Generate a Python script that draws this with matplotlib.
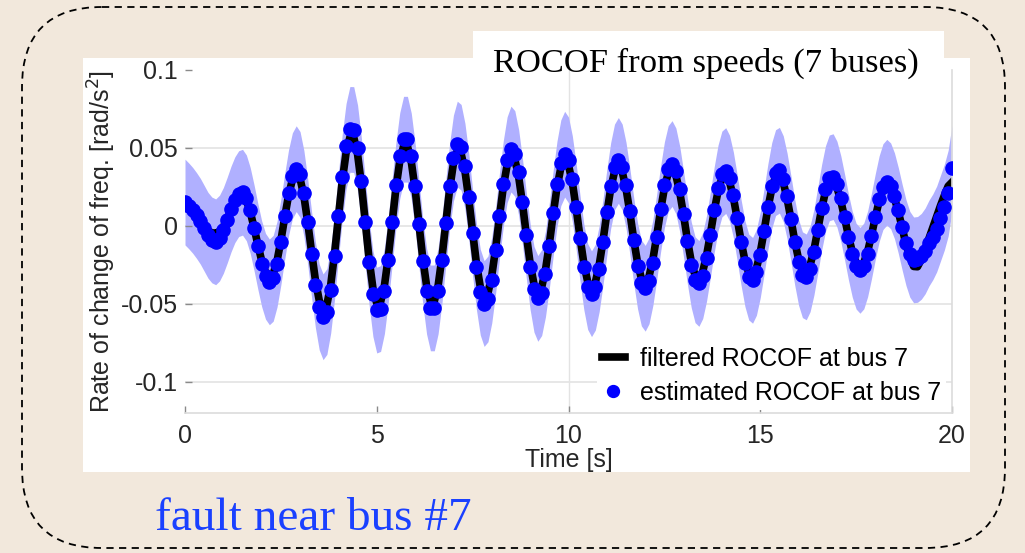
import numpy as np
import matplotlib
matplotlib.use("Agg")
import matplotlib.pyplot as plt
from matplotlib.patches import FancyBboxPatch, Rectangle

# ---- data (0.1 s sampling, 0..20 s) ----
time_s = np.linspace(0.0, 20.0, 201)

rocof_est = [
    0.0153, 0.0128, 0.0100, 0.0067, 0.0030, -0.0015, -0.0060, -0.0090, -0.0102, -0.0078,
    -0.0029, 0.0037, 0.0108, 0.0168, 0.0207, 0.0216, 0.0180, 0.0100, -0.0011, -0.0132,
    -0.0243, -0.0323, -0.0359, -0.0336, -0.0245, -0.0103, 0.0061, 0.0213, 0.0322, 0.0367,
    0.0330, 0.0209, 0.0026, -0.0182, -0.0377, -0.0520, -0.0583, -0.0549, -0.0411, -0.0194,
    0.0063, 0.0313, 0.0510, 0.0619, 0.0618, 0.0500, 0.0289, 0.0028, -0.0231, -0.0434,
    -0.0540, -0.0530, -0.0416, -0.0219, 0.0022, 0.0261, 0.0451, 0.0556, 0.0556, 0.0449,
    0.0256, 0.0015, -0.0226, -0.0419, -0.0526, -0.0526, -0.0417, -0.0221, 0.0020, 0.0255,
    0.0436, 0.0525, 0.0504, 0.0383, 0.0188, -0.0044, -0.0263, -0.0425, -0.0498, -0.0468,
    -0.0346, -0.0156, 0.0064, 0.0272, 0.0425, 0.0493, 0.0464, 0.0343, 0.0155, -0.0061,
    -0.0262, -0.0406, -0.0465, -0.0428, -0.0307, -0.0126, 0.0080, 0.0269, 0.0405, 0.0460,
    0.0423, 0.0303, 0.0123, -0.0079, -0.0262, -0.0389, -0.0435, -0.0393, -0.0274, -0.0103,
    0.0088, 0.0259, 0.0378, 0.0420, 0.0378, 0.0261, 0.0093, -0.0092, -0.0256, -0.0366,
    -0.0400, -0.0352, -0.0235, -0.0071, 0.0106, 0.0263, 0.0368, 0.0400, 0.0353, 0.0237,
    0.0076, -0.0097, -0.0248, -0.0345, -0.0369, -0.0319, -0.0207, -0.0056, 0.0105, 0.0244,
    0.0333, 0.0355, 0.0306, 0.0198, 0.0050, -0.0106, -0.0241, -0.0328, -0.0349, -0.0298,
    -0.0186, -0.0035, 0.0124, 0.0259, 0.0342, 0.0357, 0.0303, 0.0192, 0.0046, -0.0106,
    -0.0234, -0.0313, -0.0327, -0.0275, -0.0168, -0.0027, 0.0118, 0.0238, 0.0308, 0.0316,
    0.0268, 0.0176, 0.0056, -0.0071, -0.0182, -0.0258, -0.0285, -0.0257, -0.0179, -0.0065,
    0.0060, 0.0174, 0.0252, 0.0280, 0.0257, 0.0193, 0.0099, -0.0008, -0.0107, -0.0182,
    -0.0218, -0.0215, -0.0195, -0.0160, -0.0110, -0.0070, -0.0020, 0.0050, 0.0120, 0.0210,
    0.0370,
]

rocof_filt = [
    0.0150, 0.0128, 0.0100, 0.0066, 0.0030, -0.0005, -0.0030, -0.0045, -0.0048, -0.0035,
    -0.0005, 0.0040, 0.0105, 0.0155, 0.0190, 0.0199, 0.0166, 0.0092, -0.0010, -0.0121,
    -0.0224, -0.0297, -0.0330, -0.0309, -0.0225, -0.0095, 0.0056, 0.0196, 0.0296, 0.0338,
    0.0304, 0.0192, 0.0024, -0.0167, -0.0347, -0.0478, -0.0536, -0.0505, -0.0378, -0.0178,
    0.0058, 0.0288, 0.0469, 0.0569, 0.0569, 0.0460, 0.0266, 0.0026, -0.0213, -0.0399,
    -0.0497, -0.0488, -0.0383, -0.0201, 0.0020, 0.0240, 0.0415, 0.0512, 0.0512, 0.0413,
    0.0236, 0.0014, -0.0208, -0.0385, -0.0484, -0.0484, -0.0384, -0.0203, 0.0018, 0.0235,
    0.0401, 0.0483, 0.0464, 0.0352, 0.0173, -0.0040, -0.0242, -0.0391, -0.0458, -0.0431,
    -0.0318, -0.0144, 0.0059, 0.0250, 0.0391, 0.0454, 0.0427, 0.0316, 0.0143, -0.0056,
    -0.0241, -0.0374, -0.0428, -0.0394, -0.0282, -0.0116, 0.0074, 0.0247, 0.0373, 0.0423,
    0.0389, 0.0279, 0.0113, -0.0073, -0.0241, -0.0358, -0.0400, -0.0362, -0.0252, -0.0095,
    0.0081, 0.0238, 0.0348, 0.0386, 0.0348, 0.0240, 0.0086, -0.0085, -0.0236, -0.0337,
    -0.0368, -0.0324, -0.0216, -0.0065, 0.0098, 0.0242, 0.0339, 0.0368, 0.0325, 0.0218,
    0.0070, -0.0089, -0.0228, -0.0317, -0.0339, -0.0293, -0.0190, -0.0052, 0.0097, 0.0224,
    0.0306, 0.0327, 0.0282, 0.0182, 0.0046, -0.0098, -0.0222, -0.0302, -0.0321, -0.0274,
    -0.0171, -0.0032, 0.0114, 0.0238, 0.0315, 0.0328, 0.0279, 0.0177, 0.0042, -0.0098,
    -0.0215, -0.0288, -0.0301, -0.0253, -0.0155, -0.0025, 0.0109, 0.0219, 0.0283, 0.0291,
    0.0247, 0.0162, 0.0052, -0.0065, -0.0167, -0.0237, -0.0262, -0.0236, -0.0165, -0.0060,
    0.0055, 0.0160, 0.0232, 0.0258, 0.0236, 0.0178, 0.0091, -0.0010, -0.0120, -0.0195,
    -0.0260, -0.0262, -0.0215, -0.0150, -0.0080, -0.0010, 0.0060, 0.0130, 0.0195, 0.0255,
    0.0280,
]

band_halfwidth = 0.0275  # half width of the shaded confidence band

xticks = [0, 5, 10, 15, 20]
yticks = [-0.1, -0.05, 0, 0.05, 0.1]
ytick_labels = ["-0.1", "-0.05", "0", "0.05", "0.1"]

W, H = 1025, 553
BEIGE = "#f2e8dc"
BAND = "#b0b0ff"
TXT = "#262626"
GRID = "#e3e3e3"

fig = plt.figure(figsize=(W / 100, H / 100), dpi=100, facecolor=BEIGE)

# background layer in pixel coordinates: dashed rounded frame, white panels
bg = fig.add_axes([0, 0, 1, 1], zorder=0)
bg.set_xlim(0, W)
bg.set_ylim(H, 0)
bg.axis("off")
bg.add_patch(FancyBboxPatch((22, 7), 983, 541,
                            boxstyle="round,pad=0,rounding_size=80",
                            fill=False, ec="black", lw=1.3,
                            ls=(0, (4, 3))))
bg.add_patch(Rectangle((83, 58), 887, 414, fc="white", ec="none"))
bg.add_patch(Rectangle((473, 31), 471, 30, fc="white", ec="none"))

# main plot
ax = fig.add_axes([185 / W, 1 - 413 / H, 767 / W, 343 / H], zorder=1)
ax.set_facecolor("white")

est = np.array(rocof_est)
ax.fill_between(time_s, est - band_halfwidth, est + band_halfwidth,
                color=BAND, lw=0, zorder=1)
ax.plot(time_s, rocof_filt, color="black", lw=5.5, zorder=2,
        solid_joinstyle="round", label="filtered ROCOF at bus 7")
ax.plot(time_s, rocof_est, "o", color="blue", ms=9.5, mec="blue",
        zorder=3, label="estimated ROCOF at bus 7")

ax.set_xlim(0, 20)
ax.set_ylim(-0.12, 0.1)
ax.set_xticks(xticks)
ax.set_xticklabels([str(v) for v in xticks])
ax.set_yticks(yticks)
ax.set_yticklabels(ytick_labels)

# light grid: horizontal lines below the top tick, one vertical line at 10 s
for yv in yticks[:-1]:
    ax.axhline(yv, color=GRID, lw=1.2, zorder=0)
ax.axvline(10, color=GRID, lw=1.0, zorder=0)

for side in ["left", "top"]:
    ax.spines[side].set_visible(False)
for side in ["bottom", "right"]:
    ax.spines[side].set_color("#dcdcdc")
    ax.spines[side].set_linewidth(1.2)

ax.tick_params(axis="both", direction="in", length=5, width=1,
               color="#8a8a8a", labelsize=18, labelcolor=TXT)
ax.tick_params(axis="y", pad=5)
ax.tick_params(axis="x", pad=8)
for lab in ax.get_xticklabels() + ax.get_yticklabels():
    lab.set_family("Liberation Sans")

ax.set_xlabel("Time [s]", fontsize=18, color=TXT, family="Liberation Sans",
              labelpad=0)
ax.set_ylabel("Rate of change of freq. [rad/s$^2$]", fontsize=18, color=TXT,
              family="Liberation Sans", labelpad=2)

leg = ax.legend(loc="upper left", bbox_to_anchor=(597 / W, 1 - 342 / H),
                bbox_transform=fig.transFigure, frameon=True, fancybox=False,
                borderpad=0.2, labelspacing=0.4, handlelength=0.9,
                handletextpad=0.6, borderaxespad=0, markerscale=0.9,
                prop={"family": "Liberation Sans", "size": 18})
leg.get_frame().set_facecolor("white")
leg.get_frame().set_edgecolor("none")
leg.get_frame().set_alpha(1)

fig.text(493 / W, 1 - 72 / H, "ROCOF from speeds (7 buses)",
         family="Liberation Serif", fontsize=24.8, color="black",
         ha="left", va="baseline", zorder=5)
fig.text(155 / W, 1 - 530 / H, "fault near bus #7",
         family="Liberation Serif", fontsize=34, color="#1a40ff",
         ha="left", va="baseline", zorder=5)

fig.savefig("out.png", dpi=100, facecolor=BEIGE)
